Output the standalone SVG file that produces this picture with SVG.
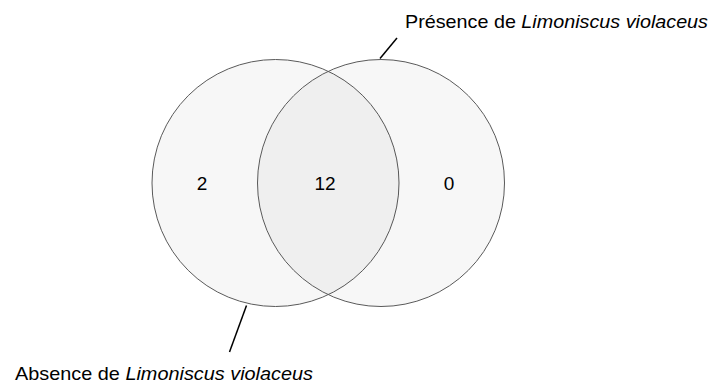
<svg xmlns="http://www.w3.org/2000/svg" width="713" height="385" viewBox="0 0 713 385">
<style>
.set{fill:#000;fill-opacity:0.03;stroke:#5a5a5a;stroke-width:1}
.lbl{font-family:"Liberation Sans",Arial,sans-serif;font-size:19px;fill:#000}
.num{font-family:"Liberation Sans",Arial,sans-serif;font-size:19px;fill:#000;text-anchor:middle}
.lead{stroke:#000;stroke-width:1.5;fill:none}
</style>
<rect width="713" height="385" fill="#fff"/>
<g id="setAbsence"><circle class="set" cx="275.5" cy="183" r="123.5"/></g>
<g id="setPresence"><circle class="set" cx="381" cy="183" r="123.5"/></g>
<g id="connectors">
<line class="lead" x1="380" y1="58.5" x2="397" y2="38"/>
<line class="lead" x1="246.5" y1="305.5" x2="229.5" y2="352"/>
</g>
<g id="count-absence-only"><text class="num" x="202" y="189.5">2</text></g>
<g id="count-both"><text class="num" x="325" y="189.5">12</text></g>
<g id="count-presence-only"><text class="num" x="449" y="189.5">0</text></g>
<g id="label-presence"><text class="lbl" x="405" y="28" textLength="303" lengthAdjust="spacingAndGlyphs">Présence de <tspan font-style="italic">Limoniscus violaceus</tspan></text></g>
<g id="label-absence"><text class="lbl" x="15" y="380" textLength="298" lengthAdjust="spacingAndGlyphs">Absence de <tspan font-style="italic">Limoniscus violaceus</tspan></text></g>
</svg>
